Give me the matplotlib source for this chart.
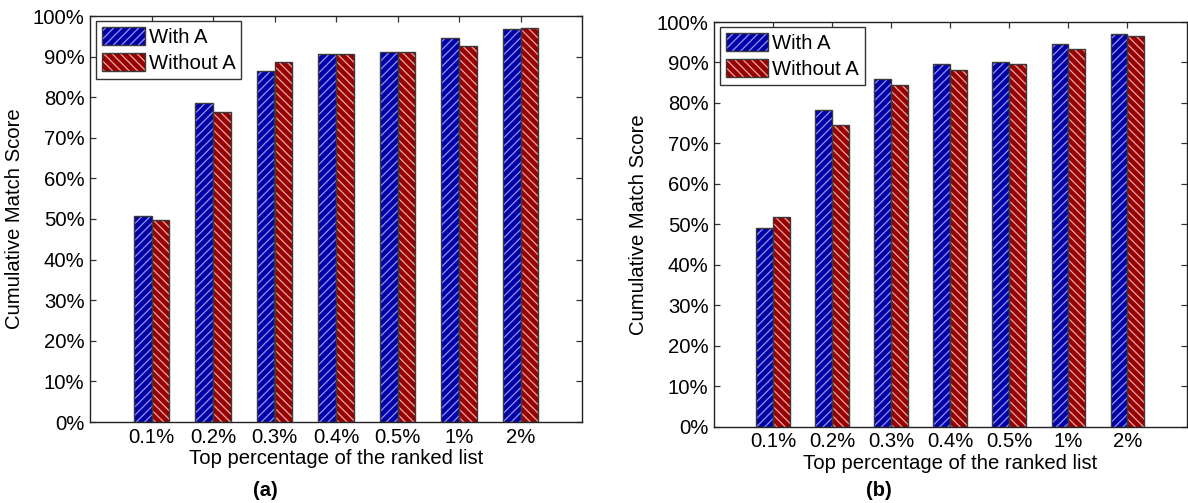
import matplotlib
matplotlib.use("Agg")
import matplotlib.pyplot as plt
from matplotlib.patches import Patch
from matplotlib.legend_handler import HandlerTuple
import numpy as np

plt.rcParams['font.family'] = ['Liberation Sans', 'DejaVu Sans']
plt.rcParams['hatch.linewidth'] = 0.9

categories = ['0.1%', '0.2%', '0.3%', '0.4%', '0.5%', '1%', '2%']
series_names = ['With A', 'Without A']

# panel (a)
a_with = [50.7, 78.5, 86.5, 90.6, 91.2, 94.7, 96.8]
a_without = [49.8, 76.3, 88.6, 90.6, 91.2, 92.7, 97.0]
# panel (b)
b_with = [49.0, 78.3, 85.9, 89.6, 90.2, 94.5, 97.0]
b_without = [51.7, 74.5, 84.5, 88.2, 89.6, 93.3, 96.6]

yticks = list(range(0, 101, 10))
ytick_labels = [f'{v}%' for v in yticks]

fill_colors = ['#0000a8', '#980000']
hatch_colors = ['#9494f4', '#eaa8a8']
hatches = ['////', '\\\\\\\\']
edge_color = '#3a3a3a'
FS = 14.6

W, H = 1188, 503
fig = plt.figure(figsize=(W / 100, H / 100), dpi=100)


def px_axes(left, top, right, bottom):
    return fig.add_axes([left / W, 1 - bottom / H, (right - left) / W, (bottom - top) / H])


def draw_panel(ax, with_vals, without_vals):
    x = np.arange(1, len(categories) + 1)
    w = 0.2857
    handles = []
    for i, vals in enumerate([with_vals, without_vals]):
        pos = x + (i - 0.5) * w
        ax.bar(pos, vals, w, color=fill_colors[i], linewidth=0, zorder=2)
        ax.bar(pos, vals, w, facecolor='none', edgecolor=hatch_colors[i],
               hatch=hatches[i], linewidth=0, zorder=3)
        ax.bar(pos, vals, w, facecolor='none', edgecolor=edge_color,
               linewidth=1.0, zorder=4)
        handles.append((Patch(facecolor=fill_colors[i], linewidth=0),
                        Patch(facecolor='none', edgecolor=hatch_colors[i],
                              hatch=hatches[i], linewidth=0),
                        Patch(facecolor='none', edgecolor=edge_color, linewidth=1.0)))
    ax.set_xlim(0, len(categories) + 1)
    ax.set_ylim(0, 100)
    ax.set_xticks(x)
    ax.set_xticklabels(categories, fontsize=FS)
    ax.set_yticks(yticks)
    ax.set_yticklabels(ytick_labels, fontsize=FS)
    ax.tick_params(direction='in', length=4.5, width=0.9, color='#333333',
                   top=True, right=True, pad=4)
    for sp in ax.spines.values():
        sp.set_color('#222222')
        sp.set_linewidth(1.0)
    ax.set_xlabel('Top percentage of the ranked list', fontsize=FS, labelpad=2)
    ax.set_ylabel('Cumulative Match Score', fontsize=FS, labelpad=6)
    leg = ax.legend(handles, series_names, handler_map={tuple: HandlerTuple(ndivide=1, pad=0)},
                    loc='upper left', bbox_to_anchor=(0.012, 0.988), borderaxespad=0,
                    fontsize=FS, handlelength=2.1, handleheight=1.0, labelspacing=0.3,
                    handletextpad=0.2, borderpad=0.3, fancybox=False, framealpha=1)
    leg.get_frame().set_edgecolor('#333333')
    leg.get_frame().set_linewidth(1.0)
    return ax


ax1 = px_axes(90, 16, 582, 422)
draw_panel(ax1, a_with, a_without)
ax2 = px_axes(714, 22, 1186.5, 426.5)
draw_panel(ax2, b_with, b_without)

fig.text(265 / W, 1 - 490 / H, '(a)', ha='center', va='center', fontsize=14.5, fontweight='bold')
fig.text(879 / W, 1 - 490 / H, '(b)', ha='center', va='center', fontsize=14.5, fontweight='bold')

fig.savefig('out.png', dpi=100, facecolor='white')
